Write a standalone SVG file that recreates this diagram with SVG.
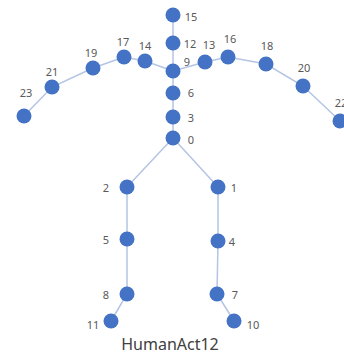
<svg xmlns="http://www.w3.org/2000/svg" width="344" height="355" viewBox="0 0 344 355">
  <style>
    .bone { stroke: #b4c4e4; stroke-width: 1.5; fill: none; }
    .joint circle { fill: #4472c4; }
    .joint text { font-family: "Noto Sans", "Liberation Sans", sans-serif; font-size: 11px; fill: #595959; text-anchor: middle; dominant-baseline: central; }
    .title { font-family: "Noto Sans", "Liberation Sans", sans-serif; font-size: 16px; fill: #404040; text-anchor: middle; }
  </style>
  <rect width="344" height="355" fill="#ffffff"/>

  <!-- skeleton bones -->
  <g id="connectors">
    <polyline class="bone" points="173,15 173,43 173,71 173,93 173,117 173,138"/>
    <polyline class="bone" points="173,71 145,61 124,57 93,68 52,87 24,116"/>
    <polyline class="bone" points="173,71 205,62 228,57 266,64 303,86 340,121"/>
    <polyline class="bone" points="173,138 127,187 127,239 127,294 111,321"/>
    <polyline class="bone" points="173,138 218,187 218,241 217,294 234,321"/>
  </g>

  <!-- joints -->
  <g id="j15" class="joint"><circle cx="173" cy="15" r="7.5"/><text x="191" y="16">15</text></g>
  <g id="j12" class="joint"><circle cx="173" cy="43" r="7.5"/><text x="190" y="43">12</text></g>
  <g id="j9" class="joint"><circle cx="173" cy="71" r="7.5"/><text x="187" y="61">9</text></g>
  <g id="j6" class="joint"><circle cx="173" cy="93" r="7.5"/><text x="191" y="92">6</text></g>
  <g id="j3" class="joint"><circle cx="173" cy="117" r="7.5"/><text x="191" y="117">3</text></g>
  <g id="j0" class="joint"><circle cx="173" cy="138" r="7.5"/><text x="191" y="139">0</text></g>

  <g id="j14" class="joint"><circle cx="145" cy="61" r="7.5"/><text x="145" y="45">14</text></g>
  <g id="j17" class="joint"><circle cx="124" cy="57" r="7.5"/><text x="123" y="41">17</text></g>
  <g id="j19" class="joint"><circle cx="93" cy="68" r="7.5"/><text x="91" y="52">19</text></g>
  <g id="j21" class="joint"><circle cx="52" cy="87" r="7.5"/><text x="52" y="71">21</text></g>
  <g id="j23" class="joint"><circle cx="24" cy="116" r="7.5"/><text x="26" y="92">23</text></g>

  <g id="j13" class="joint"><circle cx="205" cy="62" r="7.5"/><text x="209" y="44">13</text></g>
  <g id="j16" class="joint"><circle cx="228" cy="57" r="7.5"/><text x="230" y="38">16</text></g>
  <g id="j18" class="joint"><circle cx="266" cy="64" r="7.5"/><text x="267" y="45">18</text></g>
  <g id="j20" class="joint"><circle cx="303" cy="86" r="7.5"/><text x="304" y="67">20</text></g>
  <g id="j22" class="joint"><circle cx="340" cy="121" r="7.5"/><text x="341" y="102">22</text></g>

  <g id="j2" class="joint"><circle cx="127" cy="187" r="7.5"/><text x="106" y="187">2</text></g>
  <g id="j5" class="joint"><circle cx="127" cy="239" r="7.5"/><text x="106" y="239">5</text></g>
  <g id="j8" class="joint"><circle cx="127" cy="294" r="7.5"/><text x="106" y="294">8</text></g>
  <g id="j11" class="joint"><circle cx="111" cy="321" r="7.5"/><text x="93" y="324">11</text></g>

  <g id="j1" class="joint"><circle cx="218" cy="187" r="7.5"/><text x="234" y="187">1</text></g>
  <g id="j4" class="joint"><circle cx="218" cy="241" r="7.5"/><text x="232" y="241">4</text></g>
  <g id="j7" class="joint"><circle cx="217" cy="294" r="7.5"/><text x="235" y="294">7</text></g>
  <g id="j10" class="joint"><circle cx="234" cy="321" r="7.5"/><text x="253" y="324">10</text></g>

  <text class="title" x="170" y="350">HumanAct12</text>
</svg>
